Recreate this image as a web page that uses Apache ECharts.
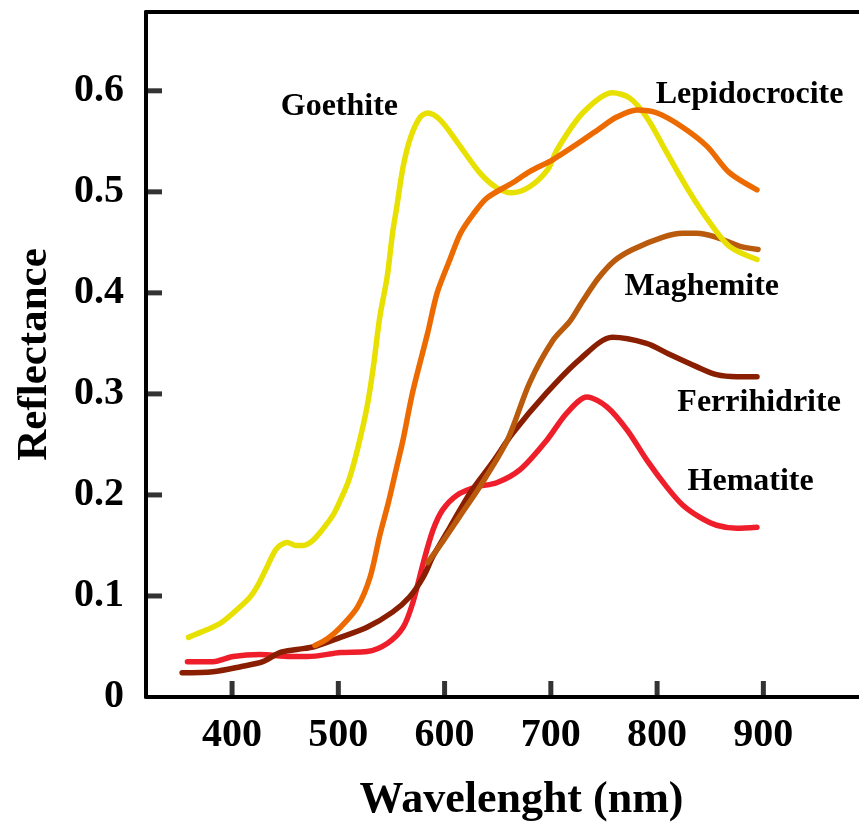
<!DOCTYPE html>
<html lang="en">
  <head>
    <meta charset="UTF-8" />
    <title>Reflectance spectra</title>
    <script src="https://cdn.jsdelivr.net/npm/echarts@6/dist/echarts.min.js"></script>
    <style>
      html, body { margin: 0; padding: 0; background: #fff; }
    </style>
  </head>

  <body>
    <div id="main" style="width: 859px; height: 825px"></div>

    <script type="text/javascript">
      // wavelength (nm) / reflectance
      var goethiteNm = [359, 375, 389, 403, 417, 425, 433, 442, 452, 460, 467, 475, 483, 495, 502, 510, 518, 527, 533, 539, 546, 551, 555, 561, 568, 577, 584, 596, 612, 633, 649, 663, 680, 697, 706, 730, 758, 774, 790, 809, 831, 850, 868, 894];
      var goethiteR = [0.059, 0.066, 0.073, 0.085, 0.099, 0.112, 0.129, 0.147, 0.153, 0.150, 0.150, 0.154, 0.163, 0.180, 0.195, 0.215, 0.245, 0.287, 0.327, 0.376, 0.416, 0.459, 0.485, 0.525, 0.554, 0.574, 0.578, 0.571, 0.549, 0.519, 0.504, 0.499, 0.505, 0.522, 0.542, 0.578, 0.598, 0.593, 0.574, 0.539, 0.499, 0.469, 0.446, 0.433];

      var lepidoNm = [478, 490, 502, 518, 530, 539, 547, 555, 561, 570, 584, 593, 605, 615, 627, 640, 664, 680, 702, 727, 745, 762, 781, 800, 824, 847, 868, 894];
      var lepidoR = [0.051, 0.058, 0.069, 0.089, 0.119, 0.160, 0.192, 0.228, 0.255, 0.302, 0.360, 0.400, 0.433, 0.459, 0.478, 0.494, 0.509, 0.520, 0.532, 0.549, 0.562, 0.574, 0.581, 0.578, 0.564, 0.545, 0.519, 0.502];

      var maghemiteNm = [584, 599, 615, 633, 659, 680, 702, 718, 730, 745, 760, 777, 805, 824, 837, 856, 878, 895];
      var maghemiteR = [0.133, 0.155, 0.180, 0.208, 0.254, 0.311, 0.353, 0.372, 0.392, 0.415, 0.432, 0.443, 0.455, 0.459, 0.459, 0.455, 0.446, 0.443];

      var ferriNm = [353, 382, 408, 429, 445, 461, 478, 502, 527, 551, 567, 580, 589, 605, 624, 645, 664, 696, 727, 758, 790, 810, 837, 856, 875, 894];
      var ferriR = [0.024, 0.025, 0.030, 0.035, 0.044, 0.047, 0.050, 0.059, 0.069, 0.084, 0.099, 0.119, 0.139, 0.168, 0.202, 0.232, 0.261, 0.301, 0.334, 0.356, 0.350, 0.340, 0.327, 0.319, 0.317, 0.317];

      var hematiteNm = [358, 382, 401, 426, 455, 471, 502, 527, 546, 561, 570, 580, 589, 598, 612, 630, 649, 671, 696, 715, 734, 753, 772, 790, 809, 824, 840, 856, 875, 894];
      var hematiteR = [0.035, 0.035, 0.040, 0.042, 0.040, 0.040, 0.044, 0.045, 0.053, 0.069, 0.093, 0.133, 0.165, 0.185, 0.200, 0.208, 0.212, 0.225, 0.254, 0.281, 0.297, 0.287, 0.264, 0.235, 0.208, 0.190, 0.178, 0.170, 0.167, 0.168];

      // curve name positions [nm, reflectance]
      var labelPos = {
        Goethite: [501, 0.584],
        Lepidocrocite: [887, 0.596],
        Maghemite: [842, 0.406],
        Ferrihidrite: [896, 0.291],
        Hematite: [888, 0.213],
      };

      var xTicks = [400, 500, 600, 700, 800, 900];
      var yTicks = [0.1, 0.2, 0.3, 0.4, 0.5, 0.6];

      var xMin = 319, xMax = 990, yMax = 0.678;
      var font = "'Liberation Serif', 'Times New Roman', serif";

      function pairs(xs, ys) {
        var out = [];
        for (var i = 0; i < xs.length; i++) out.push([xs[i], ys[i]]);
        return out;
      }

      function curve(name, xs, ys, color) {
        return {
          name: name,
          type: "line",
          data: pairs(xs, ys),
          smooth: 0.3,
          symbol: "none",
          lineStyle: { color: color, width: 5.5, cap: "round", join: "round" },
          markPoint: {
            symbol: "circle",
            symbolSize: 1,
            silent: true,
            itemStyle: { color: "rgba(0,0,0,0)" },
            data: [{ coord: labelPos[name], value: name }],
            label: {
              show: true,
              position: "inside",
              formatter: name,
              color: "#000",
              fontFamily: font,
              fontWeight: "bold",
              fontSize: 32,
            },
          },
        };
      }

      // inward axis ticks as small bars sitting on the axes
      var xTickMarks = {
        name: "xticks",
        type: "scatter",
        silent: true,
        clip: false,
        symbol: "rect",
        symbolSize: [5, 16],
        symbolOffset: [0, -8],
        itemStyle: { color: "#000" },
        z: 5,
        data: xTicks.map(function (t) { return [t, 0]; }),
      };
      var yTickMarks = {
        name: "yticks",
        type: "scatter",
        silent: true,
        clip: false,
        symbol: "rect",
        symbolSize: [16, 5],
        symbolOffset: [8, 0],
        itemStyle: { color: "#000" },
        z: 5,
        data: yTicks.map(function (t) { return [xMin, t]; }),
      };

      var myChart = echarts.init(document.getElementById("main"));

      var axisLine = { show: true, onZero: false, lineStyle: { color: "#000", width: 4 } };

      var option = {
        animation: false,
        grid: { left: 146, top: 12, right: 0, bottom: 128, outerBoundsMode: "none", containLabel: false },
        xAxis: [
          {
            type: "value",
            min: xMin,
            max: xMax,
            splitNumber: 6,
            position: "bottom",
            axisLine: axisLine,
            splitLine: { show: false },
            axisTick: { show: false },
            axisLabel: { showMinLabel: false, showMaxLabel: false, margin: 19, color: "#000", fontFamily: font, fontWeight: "bold", fontSize: 40 },
            name: "Wavelenght (nm)",
            nameLocation: "middle",
            nameGap: 82,
            nameTextStyle: { color: "#000", fontFamily: font, fontWeight: "bold", fontSize: 44, padding: [0, 0, 0, 38] },
          },
          {
            type: "value",
            min: xMin,
            max: xMax,
            position: "top",
            axisLine: axisLine,
            splitLine: { show: false },
            axisTick: { show: false },
            axisLabel: { show: false },
          },
        ],
        yAxis: {
          type: "value",
          min: 0,
          max: yMax,
          axisLine: axisLine,
          splitLine: { show: false },
          axisTick: { show: false },
          axisLabel: {
            showMaxLabel: false,
            margin: 22,
            color: "#000",
            fontFamily: font,
            fontWeight: "bold",
            fontSize: 40,
            formatter: function (v) { return v === 0 ? "0" : v.toFixed(1); },
          },
          name: "Reflectance",
          nameLocation: "middle",
          nameGap: 90,
          nameTextStyle: { color: "#000", fontFamily: font, fontWeight: "bold", fontSize: 43 },
        },
        series: [
          curve("Hematite", hematiteNm, hematiteR, "#ee1f2a"),
          curve("Ferrihidrite", ferriNm, ferriR, "#8a1e00"),
          curve("Maghemite", maghemiteNm, maghemiteR, "#b95a0c"),
          curve("Goethite", goethiteNm, goethiteR, "#e8e000"),
          curve("Lepidocrocite", lepidoNm, lepidoR, "#ec6a00"),
          xTickMarks,
          yTickMarks,
        ],
      };

      myChart.setOption(option);
    </script>
  </body>
</html>
